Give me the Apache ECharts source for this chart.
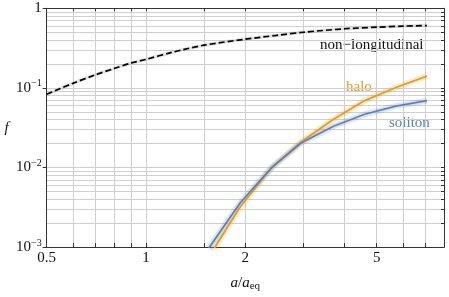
<!DOCTYPE html>
<html><head><meta charset="utf-8">
<script src="https://cdn.jsdelivr.net/npm/echarts@6/dist/echarts.min.js"></script>
<style>html,body{margin:0;padding:0;background:#fff}#c{width:449px;height:297px}</style>
</head><body><div id="c"></div>
<script>
// ---- data ----
var nlX = [0.5, 0.6, 0.7, 0.8, 0.9, 1.0, 1.2, 1.5, 2.0, 2.5, 3.0, 4.0, 5.0, 6.0, 7.1];
var nonLongitudinal = [0.083, 0.114, 0.145, 0.175, 0.205, 0.228, 0.28, 0.344, 0.409, 0.458, 0.50, 0.553, 0.579, 0.597, 0.607];
var hsX = [1.55, 1.93, 2.40, 2.95, 3.70, 4.60, 5.72, 7.10];
var halo = [0.00075, 0.0032, 0.0099, 0.0209, 0.0403, 0.0692, 0.101, 0.1405];
var soliton = [0.00097, 0.0036, 0.0099, 0.0203, 0.0329, 0.0466, 0.059, 0.069];
var xTickLabels = [0.5, 1, 2, 5];
var xGrid = [0.5, 0.6, 0.7, 0.8, 0.9, 1, 1.5, 2, 3, 4, 5, 6, 7, 8];
var yTickLabels = [0.001, 0.01, 0.1, 1];
var yGrid = (function(){var a=[];[0.001,0.01,0.1].forEach(function(d){for(var k=1;k<10;k++)a.push(d*k);});a.push(1);return a;})();

function pairs(xs, ys){return xs.map(function(x,i){return [x, ys[i]];});}

var FONT = '"Liberation Serif", "DejaVu Serif", serif';
var ORANGE = '#E19C24', BLUE = '#5E81B5';
var AX = '#333';

var chart = echarts.init(document.getElementById('c'), null, {renderer:'canvas'});
chart.setOption({
  animation:false,
  textStyle:{fontFamily:FONT},
  grid:{left:46.7, right:5, top:8.3, bottom:44.7},
  xAxis:[{
    type:'log', min:0.5, max:8, position:'bottom',
    axisLine:{show:true, lineStyle:{color:AX, width:1}},
    axisTick:{show:true, inside:true, length:4, customValues:xGrid, lineStyle:{color:AX}},
    splitLine:{show:true, lineStyle:{color:'#cfcfcf', width:1}},
    axisLabel:{customValues:xTickLabels, color:'#111', fontFamily:FONT, fontSize:15, margin:4,
      formatter:function(v){var r=Math.round(v*10)/10;return String(r);}},
    name:'{i|a}{n|/}{i|a}{s|eq}', nameLocation:'middle', nameGap:27,
    nameTextStyle:{rich:{i:{fontFamily:FONT,fontStyle:'italic',fontSize:15,color:'#111'},
      n:{fontFamily:FONT,fontSize:15,color:'#111'},
      s:{fontFamily:FONT,fontSize:11,color:'#111',padding:[7,0,0,0]}}}
  },{
    type:'log', min:0.5, max:8, position:'top',
    axisLine:{show:true, lineStyle:{color:AX, width:1}},
    axisTick:{show:true, inside:true, length:3, customValues:xGrid, lineStyle:{color:AX}},
    axisLabel:{show:false}, splitLine:{show:false}
  }],
  yAxis:[{
    type:'log', min:0.001, max:1, position:'left',
    axisLine:{show:true, lineStyle:{color:AX, width:1}},
    axisTick:{show:true, inside:false, length:4, customValues:yTickLabels, lineStyle:{color:AX}},
    splitLine:{show:false},
    axisLabel:{customValues:yTickLabels, margin:5, fontFamily:FONT,
      formatter:function(v){var e=Math.round(Math.log10(v));return e===0?'{b|1}':'{b|10}{s|−'+(-e)+'}';},
      rich:{b:{fontFamily:FONT,fontSize:15,color:'#111'},
            s:{fontFamily:FONT,fontSize:10,color:'#111',padding:[0,0,8,0]}}},
    name:'f', nameLocation:'middle', nameGap:38, nameRotate:0,
    nameTextStyle:{fontFamily:FONT, fontStyle:'italic', fontSize:15, color:'#111'}
  },{
    type:'log', min:0.001, max:1, position:'right',
    axisLine:{show:true, lineStyle:{color:AX, width:1}},
    axisTick:{show:true, inside:true, length:3, customValues:yGrid, lineStyle:{color:AX}},
    splitLine:{show:true, lineStyle:{color:'#cfcfcf', width:1}},
    axisLabel:{show:false}
  }],
  series:[
    {type:'line', data:pairs(nlX, nonLongitudinal), showSymbol:false, symbol:'none', z:2, smooth:0.3,
      lineStyle:{color:'#aaa', width:3.5, opacity:0.3}, silent:true},
    {type:'line', data:pairs(hsX, halo), showSymbol:false, symbol:'none', z:2,
      lineStyle:{color:ORANGE, width:6, opacity:0.2}, silent:true},
    {type:'line', data:pairs(hsX, soliton), showSymbol:false, symbol:'none', z:2,
      lineStyle:{color:BLUE, width:6, opacity:0.2}, silent:true},
    {name:'halo', type:'line', data:pairs(hsX, halo), showSymbol:false, symbol:'none', z:3,
      lineStyle:{color:ORANGE, width:1.8}},
    {name:'soliton', type:'line', data:pairs(hsX, soliton), showSymbol:false, symbol:'none', z:3,
      lineStyle:{color:BLUE, width:1.8}},
    {name:'non-longitudinal', type:'line', data:pairs(nlX, nonLongitudinal), showSymbol:false, symbol:'none', z:4, smooth:0.3,
      lineStyle:{color:'#000', width:1.7, type:[6,3]}}
  ],
  graphic:[
    {type:'text', left:320, top:38, style:{text:'non−longitudinal', font:'15px '+FONT, fill:'#111'}},
    {type:'text', left:346, top:80, style:{text:'halo', font:'15px '+FONT, fill:ORANGE}},
    {type:'text', left:389, top:116, style:{text:'soliton', font:'15px '+FONT, fill:BLUE}},
    {type:'text', left:3, top:124, style:{text:'', font:'italic 15px '+FONT, fill:'#111'}}
  ]
});
</script></body></html>
